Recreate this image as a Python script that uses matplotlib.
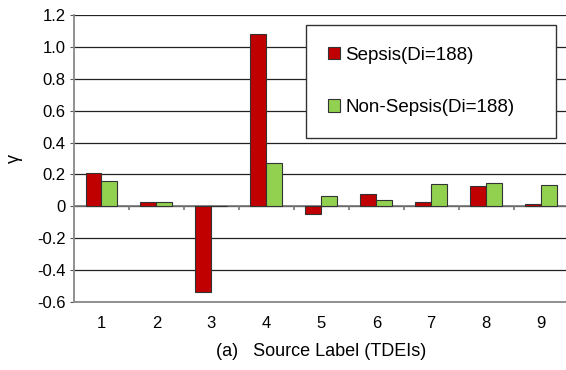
import numpy as np
import matplotlib
matplotlib.use('Agg')
import matplotlib.pyplot as plt

# data
kategori = ['1', '2', '3', '4', '5', '6', '7', '8', '9']
sepsis = [0.21, 0.03, -0.54, 1.08, -0.046, 0.08, 0.025, 0.126, 0.013]
non_sepsis = [0.157, 0.028, 0.0, 0.27, 0.065, 0.042, 0.143, 0.149, 0.132]

plt.rcParams['font.family'] = ['Liberation Sans', 'DejaVu Sans']

fig = plt.figure(figsize=(5.66, 3.7), dpi=100)
ax = fig.add_axes([0.1307, 0.1838, 0.874, 0.7757])

x = np.arange(1, len(kategori) + 1)
w = 0.29

ax.bar(x - w / 2, sepsis, w, color='#C00000', edgecolor='#333333',
       linewidth=0.8, label='Sepsis(Di=188)', zorder=3)
ax.bar(x + w / 2, non_sepsis, w, color='#92D050', edgecolor='#333333',
       linewidth=0.8, label='Non-Sepsis(Di=188)', zorder=3)

ax.set_xlim(0.5, len(kategori) + 0.5)
ax.set_ylim(-0.6, 1.2)
ax.set_yticks(np.arange(-0.6, 1.21, 0.2))
ax.set_yticklabels(['-0.6', '-0.4', '-0.2', '0', '0.2', '0.4', '0.6',
                    '0.8', '1.0', '1.2'])
ax.set_xticks(x)
ax.set_xticklabels(kategori)

ax.tick_params(axis='x', length=0, pad=10, labelsize=12)
ax.tick_params(axis='y', length=3, color='#555555', labelsize=12, pad=3)

ax.grid(axis='y', color='#222222', linewidth=0.9, zorder=0)

# zero line with category boundary ticks
ax.axhline(0, color='#777777', linewidth=1.2, zorder=2)
batas = np.arange(1.5, len(kategori), 1.0)
ax.vlines(batas, -0.025, 0, color='#777777', linewidth=1.2, zorder=2)

for s in ['top', 'right']:
    ax.spines[s].set_visible(False)
ax.spines['left'].set_color('#888888')
ax.spines['left'].set_linewidth(1.3)
ax.spines['bottom'].set_color('#888888')
ax.spines['bottom'].set_linewidth(1.3)

ax.set_ylabel('γ', fontsize=13, labelpad=10)
ax.set_xlabel('(a)   Source Label (TDEIs)', fontsize=13, labelpad=9)

leg = ax.legend(loc='upper left', bbox_to_anchor=(0.4695, 0.965, 0.504, 0.0),
                mode='expand', fontsize=13.5, frameon=True, fancybox=False,
                handlelength=0.65, handleheight=0.65, handletextpad=0.3,
                labelspacing=1.9, borderpad=1.15, borderaxespad=0)
leg.get_frame().set_edgecolor('#333333')
leg.get_frame().set_linewidth(1.0)
leg.get_frame().set_alpha(1)

plt.savefig('out.png', dpi=100)
